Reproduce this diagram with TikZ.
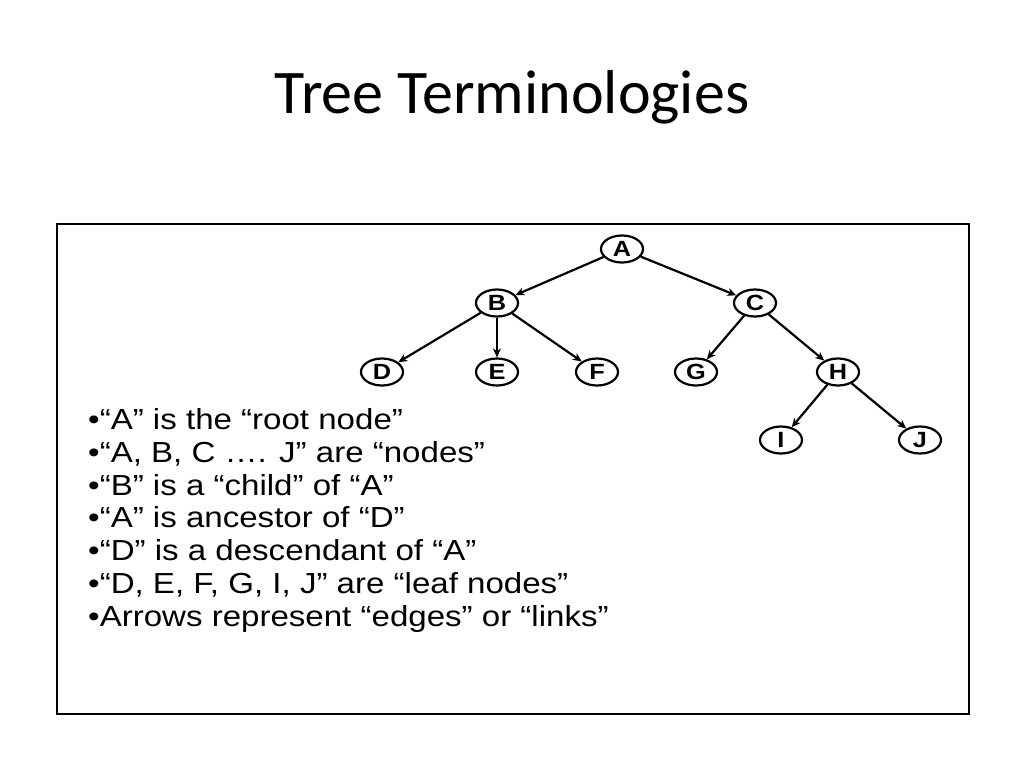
\documentclass[tikz,border=0pt]{standalone}
\usepackage{fontspec}
\setmainfont{Liberation Sans}
\newfontfamily\titlefont{Carlito}
\newfontfamily\bodyfont[FakeStretch=1.14]{Liberation Sans}
\newfontfamily\nodefont[FakeStretch=1.15]{Liberation Sans Bold}
\usetikzlibrary{shapes.geometric,arrows.meta}
\begin{document}
\begin{tikzpicture}[x=1pt,y=-1pt,
  tnode/.style={draw,line width=2.2pt,ellipse,minimum width=42pt,minimum height=27pt,inner sep=0pt,font=\nodefont\fontsize{22}{22}\selectfont},
  edge/.style={line width=2.2pt,-{Stealth[length=9pt,width=8pt]}},
  bullet/.style={anchor=base west,inner sep=0pt,font=\bodyfont\fontsize{29}{29}\selectfont}]
\useasboundingbox (0,0) rectangle (1024,768);
\node[font=\titlefont\fontsize{62}{62}\selectfont] (title) at (512,97) {Tree Terminologies};
\draw[line width=1.5pt] (57,224) rectangle (969,714);
\node[tnode] (A) at (622,249) {A};
\node[tnode] (B) at (497,303) {B};
\node[tnode] (C) at (755,303) {C};
\node[tnode] (D) at (382,372) {D};
\node[tnode] (E) at (497,372) {E};
\node[tnode] (F) at (597,372) {F};
\node[tnode] (G) at (696,372) {G};
\node[tnode] (H) at (838,372) {H};
\node[tnode] (I) at (781,440) {I};
\node[tnode] (J) at (920,440) {J};
\draw[edge] (A) -- (B);
\draw[edge] (A) -- (C);
\draw[edge] (B) -- (D);
\draw[edge] (B) -- (E);
\draw[edge] (B) -- (F);
\draw[edge] (C) -- (G);
\draw[edge] (C) -- (H);
\draw[edge] (H) -- (I);
\draw[edge] (H) -- (J);
\node[bullet] (t1) at (88,429) {•“A” is the “root node”};
\node[bullet] (t2) at (88,462) {•“A, B, C …. J” are “nodes”};
\node[bullet] (t3) at (88,495) {•“B” is a “child” of “A”};
\node[bullet] (t4) at (88,527) {•“A” is ancestor of “D”};
\node[bullet] (t5) at (88,560) {•“D” is a descendant of “A”};
\node[bullet] (t6) at (88,593) {•“D, E, F, G, I, J” are “leaf nodes”};
\node[bullet] (t7) at (88,626) {•Arrows represent “edges” or “links”};
\end{tikzpicture}
\end{document}
